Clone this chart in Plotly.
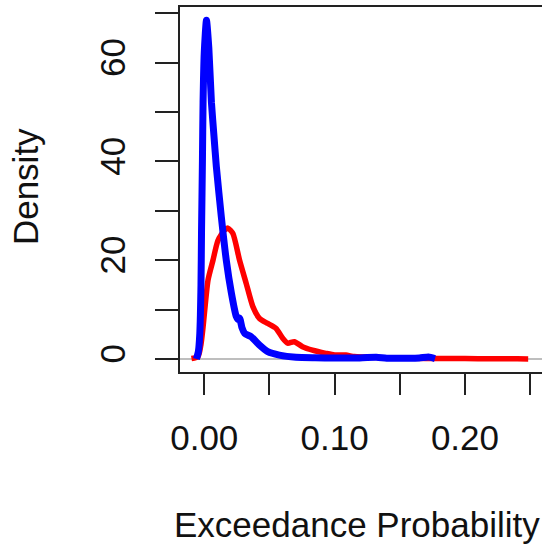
import plotly.graph_objects as go

# Red density curve
red_x = [-0.0098, -0.0047, -0.0025, -0.0009, 0.0029, 0.0067, 0.0105, 0.0156, 0.0182, 0.022,
         0.0271, 0.0322, 0.0373, 0.0424, 0.0487, 0.0551, 0.0602, 0.064, 0.0691, 0.0754,
         0.083, 0.0933, 0.1, 0.1086, 0.115, 0.124, 0.14, 0.16, 0.18, 0.20, 0.22, 0.24, 0.2485]
red_y = [0.1, 0.5, 3.0, 6.5, 16.0, 20.0, 24.0, 26.1, 26.5, 25.4,
         20.0, 15.3, 10.6, 8.2, 7.2, 6.2, 4.2, 3.2, 3.5, 2.5,
         1.8, 1.15, 0.8, 0.8, 0.5, 0.4, 0.2, 0.15, 0.1, 0.08, 0.05, 0.03, 0.02]

# Blue density curve
blue_x = [-0.006, -0.0045, -0.0034, -0.0025, -0.0021, -0.0014, -0.0009, 0.0, 0.0017, 0.0035,
          0.0055, 0.0075, 0.0093, 0.0131, 0.0169, 0.0208, 0.0246, 0.026, 0.0271, 0.029,
          0.031, 0.036, 0.0424, 0.0487, 0.0576, 0.0704, 0.085, 0.10, 0.115, 0.132,
          0.14, 0.155, 0.165, 0.172, 0.177]
blue_y = [0.0, 1.5, 5.2, 15.0, 25.5, 40.0, 52.0, 62.0, 68.6, 63.0,
          52.0, 45.0, 38.9, 28.8, 20.0, 13.4, 8.6, 8.0, 8.3, 6.3,
          5.2, 4.5, 2.8, 1.5, 0.8, 0.35, 0.25, 0.2, 0.2, 0.35,
          0.15, 0.15, 0.2, 0.4, 0.1]

x_ticks = [0.0, 0.05, 0.10, 0.15, 0.20, 0.25]
x_labels = ["0.00", "", "0.10", "", "0.20", ""]
y_ticks = [0, 10, 20, 30, 40, 50, 60, 70]
y_labels = ["0", "", "20", "", "40", "", "60", ""]

FONT = "Liberation Sans, Arial, sans-serif"
AX = "#222222"
FS = 35

fig = go.Figure()
fig.add_trace(go.Scatter(x=red_x, y=red_y, mode="lines",
                         line=dict(color="#ff0000", width=5.5, shape="spline", smoothing=0.6),
                         hoverinfo="skip"))
fig.add_trace(go.Scatter(x=blue_x, y=blue_y, mode="lines",
                         line=dict(color="#0000ff", width=7, shape="spline", smoothing=0.6),
                         hoverinfo="skip"))

fig.update_layout(
    width=542, height=546,
    margin=dict(l=180, r=0, t=7, b=174),
    paper_bgcolor="white", plot_bgcolor="white",
    showlegend=False,
    font=dict(family=FONT, size=FS, color="#111111"),
    xaxis=dict(range=[-0.0186, 0.2591], tickmode="array", tickvals=x_ticks, ticktext=x_labels,
               ticks="outside", ticklen=21, tickwidth=2, tickcolor=AX,
               showline=True, linecolor=AX, linewidth=2, mirror=True,
               showgrid=False, zeroline=False, ticklabelstandoff=13,
               tickfont=dict(family=FONT, size=FS, color="#111111")),
    yaxis=dict(range=[-2.63, 71.27], tickmode="array", tickvals=y_ticks, ticktext=y_labels,
               ticks="outside", ticklen=23, tickwidth=2, tickcolor=AX,
               showline=True, linecolor=AX, linewidth=2, mirror=False,
               showgrid=False, zeroline=True, zerolinecolor="#bebebe", zerolinewidth=2,
               tickangle=-90, ticklabelstandoff=16,
               tickfont=dict(family=FONT, size=FS, color="#111111")),
    annotations=[
        dict(text="Exceedance Probability", xref="paper", yref="paper",
             x=0.488, y=-0.419, xanchor="center", yanchor="middle", showarrow=False,
             font=dict(family=FONT, size=FS, color="#111111")),
        dict(text="Density", xref="paper", yref="paper", textangle=-90,
             x=-0.425, y=0.507, xanchor="center", yanchor="middle", showarrow=False,
             font=dict(family=FONT, size=FS, color="#111111")),
    ],
)

fig.write_html("out.html")
